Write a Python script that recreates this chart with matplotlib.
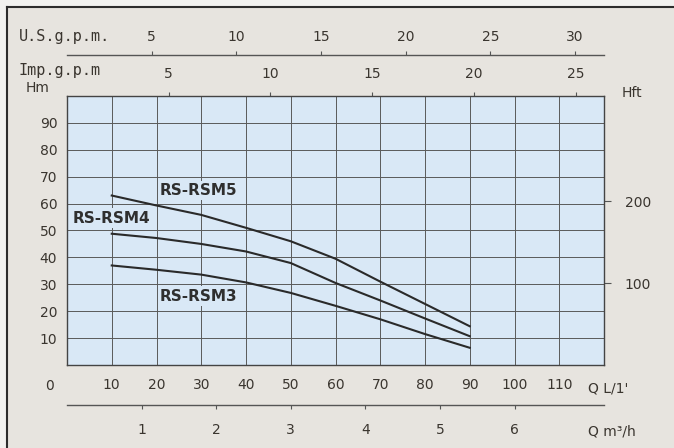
import matplotlib
matplotlib.use("Agg")
import matplotlib.pyplot as plt
from matplotlib.lines import Line2D
from matplotlib.patches import Rectangle

# flow in L/min and head in m
flow = [10, 20, 30, 40, 50, 60, 70, 80, 90]
rsm5 = [63.0, 59.3, 55.8, 51.0, 46.0, 39.5, 31.0, 22.7, 14.4]
rsm4 = [48.8, 47.2, 45.0, 42.2, 37.9, 30.5, 24.0, 17.3, 10.7]
rsm3 = [37.0, 35.4, 33.6, 30.7, 26.8, 22.0, 17.0, 11.5, 6.4]

lpm_ticks = [10, 20, 30, 40, 50, 60, 70, 80, 90, 100, 110]
hm_ticks = [10, 20, 30, 40, 50, 60, 70, 80, 90]
usgpm_ticks = [5, 10, 15, 20, 25, 30]
impgpm_ticks = [5, 10, 15, 20, 25]
m3h_ticks = [1, 2, 3, 4, 5, 6]
hft_ticks = [100, 200]

BG = "#e7e4df"
PLOT_BG = "#d9e8f6"
INK = "#3a352f"
GRID = "#5a5a5a"
CURVE = "#2a2a2a"

W, H = 674, 448
fig = plt.figure(figsize=(W / 100, H / 100), dpi=100)
fig.patch.set_facecolor("#f2f2f0")
fig.add_artist(Rectangle((7 / W, 0), 1, 1 - 7 / H, transform=fig.transFigure,
                         facecolor=BG, edgecolor="none", zorder=-10))
fig.add_artist(Line2D([7 / W, 7 / W], [0, 1 - 7 / H], transform=fig.transFigure,
                      color="#2d2d2d", lw=1.5))
fig.add_artist(Line2D([7 / W, 1], [1 - 7 / H, 1 - 7 / H], transform=fig.transFigure,
                      color="#2d2d2d", lw=1.5))

ax = fig.add_axes([67 / W, 1 - 365 / H, 537 / W, 269 / H])
ax.set_facecolor(PLOT_BG)
ax.set_xlim(0, 120)
ax.set_ylim(0, 100)

ax.plot(flow, rsm5, color=CURVE, lw=1.5, zorder=3)
ax.plot(flow, rsm4, color=CURVE, lw=1.5, zorder=3)
ax.plot(flow, rsm3, color=CURVE, lw=1.5, zorder=3)

box = dict(facecolor=PLOT_BG, edgecolor="none", pad=1.5)
ax.text(20.8, 65.0, "RS-RSM5", fontsize=11, fontweight="bold", color="#2f2f2f",
        va="center", ha="left", bbox=box, zorder=4)
ax.text(1.3, 54.6, "RS-RSM4", fontsize=11, fontweight="bold", color="#2f2f2f",
        va="center", ha="left", bbox=box, zorder=4)
ax.text(20.8, 25.6, "RS-RSM3", fontsize=11, fontweight="bold", color="#2f2f2f",
        va="center", ha="left", bbox=box, zorder=4)

ax.set_xticks([0] + lpm_ticks + [120])
ax.set_xticklabels([""] + [str(v) for v in lpm_ticks] + [""])
ax.set_yticks([0] + hm_ticks + [100])
ax.set_yticklabels([""] + [str(v) for v in hm_ticks] + [""])
ax.grid(True, color=GRID, lw=0.7)
ax.set_axisbelow(True)
ax.tick_params(axis="both", length=0, labelsize=10, labelcolor=INK)
ax.tick_params(axis="x", pad=9)
ax.tick_params(axis="y", pad=7)
for s in ax.spines.values():
    s.set_color("#444444")
    s.set_linewidth(1.0)

# US gallons per minute, line above the chart
us = ax.secondary_xaxis(1.152, functions=(lambda q: q / 3.785, lambda g: g * 3.785))
us.set_xticks(usgpm_ticks)
us.tick_params(length=3, width=0.8, color="#555555", labelsize=10, labelcolor=INK, pad=5)
us.spines["top"].set_color("#555555")
us.spines["top"].set_linewidth(1.0)

# imperial gallons per minute, on the chart top
imp = ax.secondary_xaxis("top", functions=(lambda q: q / 4.546, lambda g: g * 4.546))
imp.set_xticks(impgpm_ticks)
imp.tick_params(length=3, width=0.8, color="#555555", labelsize=10, labelcolor=INK, pad=8)
imp.spines["top"].set_visible(False)

# cubic metres per hour, line below the chart
m3 = ax.secondary_xaxis(-0.149, functions=(lambda q: q * 0.06, lambda c: c / 0.06))
m3.set_xticks(m3h_ticks)
m3.tick_params(length=3, width=0.8, color="#555555", labelsize=10, labelcolor=INK, pad=10)
m3.spines["bottom"].set_color("#555555")
m3.spines["bottom"].set_linewidth(1.0)

# head in feet
ft = ax.secondary_yaxis("right", functions=(lambda m: m * 3.281, lambda f: f / 3.281))
ft.set_yticks(hft_ticks)
ft.tick_params(length=5, width=0.8, color="#555555", labelsize=10, labelcolor=INK, pad=10)
ft.spines["right"].set_visible(False)

fig.text(19 / W, 1 - 37 / H, "U.S.g.p.m.", family="DejaVu Sans Mono", fontsize=11,
         color=INK, va="center", ha="left")
fig.text(19 / W, 1 - 70 / H, "Imp.g.p.m", family="DejaVu Sans Mono", fontsize=11,
         color=INK, va="center", ha="left")
fig.text(38 / W, 1 - 88 / H, "Hm", fontsize=10, color=INK, va="center", ha="center")
fig.text(632 / W, 1 - 93 / H, "Hft", fontsize=10, color=INK, va="center", ha="center")
fig.text(49 / W, 1 - 386 / H, "0", fontsize=10, color=INK, va="center", ha="center")
fig.text(588 / W, 1 - 388 / H, "Q L/1'", fontsize=10, color=INK, va="center", ha="left")
fig.text(588 / W, 1 - 431 / H, "Q m³/h", fontsize=10, color=INK, va="center", ha="left")

fig.savefig("out.png", dpi=100, facecolor=fig.get_facecolor())
